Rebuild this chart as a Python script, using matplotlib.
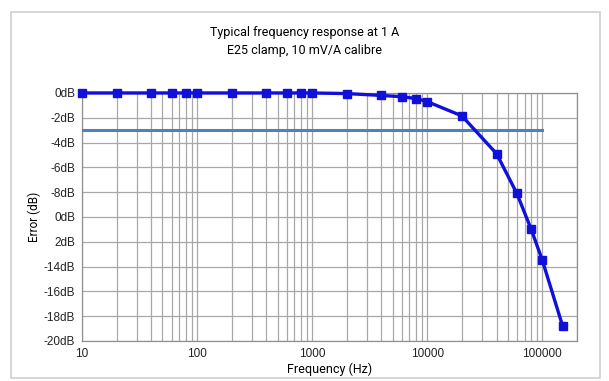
import matplotlib
matplotlib.use("Agg")
import matplotlib.pyplot as plt
import matplotlib.ticker as mticker
from matplotlib.patches import Rectangle

# measured response of the E25 clamp
freq_hz = [10, 20, 40, 60, 80, 100, 200, 400, 600, 800, 1000, 2000, 4000,
           6000, 8000, 10000, 20000, 40000, 60000, 80000, 100000, 150000]
error_db = [0, 0, 0, 0, 0, 0, 0, 0, 0, 0, 0, -0.05, -0.2,
            -0.3, -0.45, -0.7, -1.85, -4.9, -8.1, -11.0, -13.5, -18.8]

cutoff_x = [10, 100000]
cutoff_y = [-3, -3]

ytick_vals = [0, -2, -4, -6, -8, -10, -12, -14, -16, -18, -20]
ytick_text = ["0dB", "-2dB", "-4dB", "-6dB", "-8dB", "0dB", "2dB",
              "-14dB", "-16dB", "-18dB", "-20dB"]

fig = plt.figure(figsize=(6.09, 3.81), dpi=100)
fig.patches.append(Rectangle((0.018, 0.008), 0.967, 0.96, transform=fig.transFigure,
                             fill=False, edgecolor="#d0d0d0", linewidth=1.2))

ax = fig.add_axes([0.1346, 0.105, 0.8129, 0.651])
ax.set_xscale("log")
ax.set_xlim(10, 200000)
ax.set_ylim(-20, 0)

ax.xaxis.set_major_locator(mticker.FixedLocator([10, 100, 1000, 10000, 100000]))
ax.xaxis.set_major_formatter(mticker.FixedFormatter(["10", "100", "1000", "10000", "100000"]))
ax.xaxis.set_minor_locator(mticker.LogLocator(base=10, subs=range(2, 10)))
ax.xaxis.set_minor_formatter(mticker.NullFormatter())
ax.set_yticks(ytick_vals)
ax.set_yticklabels(ytick_text)

ax.grid(which="both", axis="x", color="#a8a8a8", linewidth=0.9)
ax.grid(which="major", axis="y", color="#a8a8a8", linewidth=0.9)
ax.set_axisbelow(True)
for s in ax.spines.values():
    s.set_color("#909090")
    s.set_linewidth(0.9)
ax.tick_params(which="both", length=0, labelsize=8.5, colors="#222222", pad=5)
for lab in ax.get_xticklabels() + ax.get_yticklabels():
    lab.set_family("Liberation Sans")

ax.plot(cutoff_x, cutoff_y, color="#4f81bd", linewidth=2.2, zorder=3)
ax.plot(freq_hz, error_db, color="#1010d8", linewidth=2.4, marker="s",
        markersize=6, zorder=4, clip_on=False)

ax.set_xlabel("Frequency (Hz)", fontsize=9, family="Roboto", labelpad=2)
ax.set_ylabel("Error (dB)", fontsize=8.5, family="Roboto", labelpad=2)

fig.text(0.5, 0.915, "Typical frequency response at 1 A", ha="center", va="center",
         fontsize=9, family="Roboto", fontstretch="condensed")
fig.text(0.5, 0.868, "E25 clamp, 10 mV/A calibre", ha="center", va="center",
         fontsize=9, family="Roboto", fontstretch="condensed")

fig.savefig("out.png", dpi=100)
